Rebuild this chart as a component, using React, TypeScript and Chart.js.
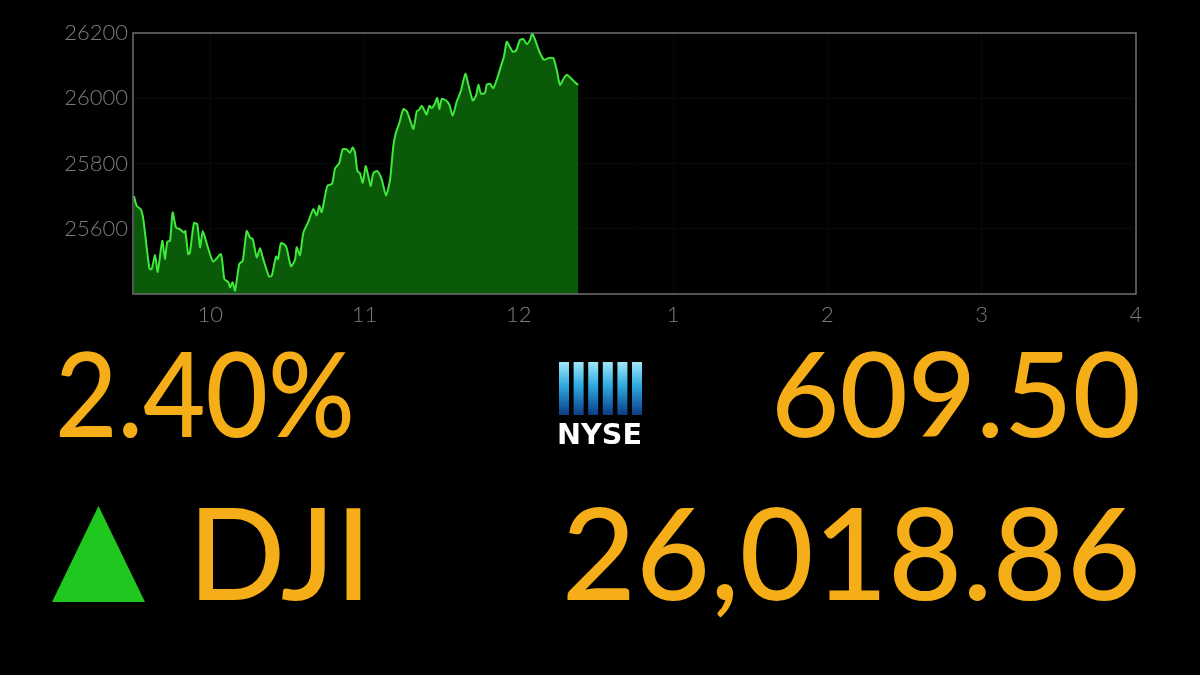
import React, { useEffect, useRef } from "react";
import { Chart, registerables } from "chart.js";

Chart.register(...registerables);

// Time of day in decimal hours (9.5 = 9:30 open)
const timeHours = [
  9.506, 9.524, 9.55, 9.567, 9.606, 9.621, 9.643, 9.66, 9.69, 9.707, 9.722, 9.74,
  9.757, 9.779, 9.805, 9.831, 9.839, 9.858, 9.869, 9.895, 9.917, 9.934, 9.952, 9.982,
  10.02, 10.07, 10.092, 10.118, 10.129, 10.146, 10.161, 10.189, 10.211, 10.237, 10.258, 10.276,
  10.302, 10.323, 10.344, 10.381, 10.399, 10.427, 10.44, 10.459, 10.485, 10.496, 10.524, 10.55,
  10.561, 10.582, 10.604, 10.636, 10.668, 10.691, 10.707, 10.723, 10.759, 10.79, 10.809, 10.837,
  10.859, 10.885, 10.906, 10.924, 10.939, 10.954, 10.971, 10.989, 11.008, 11.025, 11.041, 11.057,
  11.083, 11.112, 11.14, 11.166, 11.187, 11.204, 11.226, 11.252, 11.274, 11.295, 11.317, 11.339,
  11.355, 11.371, 11.386, 11.403, 11.42, 11.436, 11.453, 11.472, 11.485, 11.501, 11.529, 11.55,
  11.572, 11.598, 11.624, 11.654, 11.676, 11.702, 11.723, 11.738, 11.755, 11.781, 11.792, 11.814,
  11.835, 11.861, 11.89, 11.904, 11.922, 11.939, 11.961, 11.982, 12.008, 12.03, 12.052, 12.073,
  12.088, 12.116, 12.138, 12.164, 12.192, 12.224, 12.246, 12.267, 12.293, 12.311, 12.343, 12.365,
  12.386,
];

const djiValues = [
  25700, 25670, 25660, 25629, 25478, 25476, 25519, 25468, 25563, 25507, 25560, 25563,
  25650, 25604, 25598, 25588, 25593, 25522, 25527, 25617, 25614, 25543, 25593, 25548,
  25499, 25522, 25446, 25436, 25420, 25436, 25410, 25492, 25502, 25593, 25573, 25568,
  25512, 25540, 25507, 25454, 25456, 25515, 25507, 25556, 25550, 25540, 25485, 25505,
  25543, 25519, 25588, 25621, 25660, 25641, 25670, 25651, 25731, 25738, 25784, 25802,
  25844, 25843, 25833, 25850, 25833, 25777, 25770, 25741, 25792, 25761, 25731, 25770,
  25777, 25751, 25702, 25751, 25853, 25894, 25924, 25967, 25960, 25934, 25906, 25960,
  25965, 25977, 25965, 25950, 25977, 25970, 25980, 26001, 25967, 25998, 25993, 25980,
  25947, 25990, 26021, 26075, 26036, 25993, 26008, 26041, 26014, 26016, 26041, 26044,
  26031, 26062, 26107, 26128, 26173, 26160, 26143, 26146, 26179, 26181, 26166, 26179,
  26199, 26166, 26138, 26118, 26123, 26123, 26087, 26041, 26062, 26072, 26059, 26048,
  26041,
];

const tickHours = [10, 11, 12, 13, 14, 15, 16];
const tickLabels = ["10", "11", "12", "1", "2", "3", "4"];
const yTicks = [25600, 25800, 26000, 26200];
const xRange = [9.5, 16];
const yRange = [25400, 26200];

const pctChange = "2.40%";
const pointChange = "609.50";
const indexName = "DJI";
const indexLevel = "26,018.86";

const ORANGE = "#f5ad18";

const framePlugin = {
  id: "frame",
  afterDraw(chart: any) {
    const { ctx, chartArea } = chart;
    ctx.save();
    ctx.strokeStyle = "#707070";
    ctx.lineWidth = 1.5;
    ctx.strokeRect(chartArea.left, chartArea.top, chartArea.right - chartArea.left, chartArea.bottom - chartArea.top);
    ctx.restore();
  },
};

export default function App() {
  const ref = useRef<HTMLCanvasElement>(null);

  useEffect(() => {
    if (!ref.current) return;
    const chart = new Chart(ref.current, {
      type: "line",
      data: {
        datasets: [
          {
            data: timeHours.map((t, i) => ({ x: t, y: djiValues[i] })),
            borderColor: "#3fe83a",
            borderWidth: 2,
            backgroundColor: "#0a5a0a",
            fill: "start",
            pointRadius: 0,
            tension: 0.2,
          },
        ],
      },
      options: {
        responsive: false,
        animation: false,
        devicePixelRatio: 1,
        layout: { padding: { top: 33, right: 64, left: 0, bottom: 0 } },
        plugins: { legend: { display: false }, tooltip: { enabled: false } },
        scales: {
          x: {
            type: "linear",
            min: xRange[0],
            max: xRange[1],
            z: 1,
            afterBuildTicks: (s: any) => {
              s.ticks = tickHours.map((v) => ({ value: v }));
            },
            afterFit: (s: any) => {
              s.height = 46;
            },
            border: { display: false },
            grid: { color: "rgba(255,255,255,0.035)", drawTicks: false },
            ticks: {
              padding: 8,
              color: "#7c7c7c",
              font: { family: "Lato", size: 22, weight: "300" as any },
              callback: (v: any, i: number) => tickLabels[i],
              maxRotation: 0,
              autoSkip: false,
            },
          },
          y: {
            type: "linear",
            min: yRange[0],
            max: yRange[1],
            z: 1,
            afterBuildTicks: (s: any) => {
              s.ticks = yTicks.map((v) => ({ value: v }));
            },
            afterFit: (s: any) => {
              s.width = 133;
            },
            border: { display: false },
            grid: { color: "rgba(255,255,255,0.035)", drawTicks: false },
            ticks: {
              padding: 5,
              color: "#7c7c7c",
              font: { family: "Lato", size: 22, weight: "300" as any },
              callback: (v: any) => String(v),
              autoSkip: false,
            },
          },
        },
      },
      plugins: [framePlugin],
    });
    return () => chart.destroy();
  }, []);

  const bars = [0, 1, 2, 3, 4, 5];

  return (
    <div style={{ position: "fixed", left: 0, top: 0, width: 1200, height: 675, background: "#000", overflow: "hidden" }}>
      <canvas ref={ref} width={1200} height={340} style={{ position: "absolute", left: 0, top: 0, width: 1200, height: 340 }} />
      <svg width={1200} height={675} style={{ position: "absolute", left: 0, top: 0 }}>
        <defs>
          <linearGradient id="nyseGrad" x1="0" y1="0" x2="0" y2="1">
            <stop offset="0" stopColor="#9fe8fb" />
            <stop offset="0.45" stopColor="#2fa8e0" />
            <stop offset="1" stopColor="#0a3d86" />
          </linearGradient>
        </defs>
        <text x={55} y={437} fill={ORANGE} fontFamily="Lato" fontSize={118} fontWeight={500} textLength={300} lengthAdjust="spacingAndGlyphs">
          {pctChange}
        </text>
        <text x={1141} y={437} fill={ORANGE} fontFamily="Lato" fontSize={118} fontWeight={500} textAnchor="end">
          {pointChange}
        </text>
        {bars.map((i) => (
          <rect key={i} x={559 + i * 14.6} y={362} width={10} height={53} fill="url(#nyseGrad)" />
        ))}
        <text x={557} y={444} fill="#fff" fontFamily="DejaVu Sans" fontWeight="bold" fontSize={29} textLength={85} lengthAdjust="spacingAndGlyphs">
          NYSE
        </text>
        <polygon points="52,602 98.5,506 145,602" fill="#1fc81f" />
        <text x={188} y={600} fill={ORANGE} fontFamily="Lato" fontSize={128} fontWeight={500}>
          {indexName}
        </text>
        <text x={1141} y={600} fill={ORANGE} fontFamily="Lato" fontSize={128} fontWeight={500} textAnchor="end">
          {indexLevel}
        </text>
      </svg>
    </div>
  );
}
